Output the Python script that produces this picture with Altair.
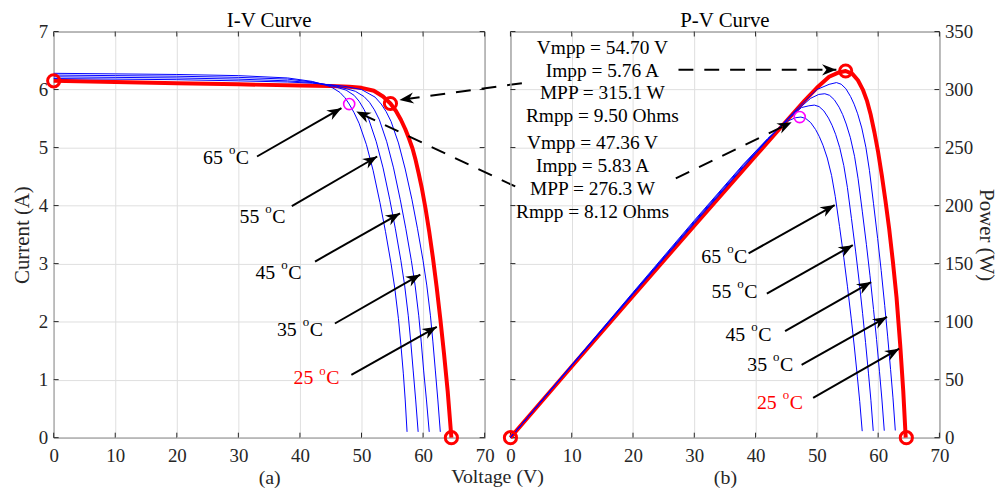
import math
import altair as alt
import pandas as pd

FONT = "Liberation Serif"
AX = "#262626"
GRID = "#dfdfdf"

# ---------------- data ----------------
# I-V curves (V in volts, I in amps)
iv25_v = [0, 10, 20, 30, 40, 45, 48, 50, 52, 53.5, 54.7, 55.6, 56.4, 57.1, 57.7, 58.3, 58.8, 59.3, 59.8,
          60.4, 61.0, 61.6, 62.2, 62.8, 63.4, 64.0, 64.6]
iv25_i = [6.15, 6.13, 6.11, 6.09, 6.07, 6.06, 6.05, 6.03, 5.98, 5.88, 5.76, 5.63, 5.48, 5.32, 5.16, 4.98, 4.78,
          4.55, 4.3, 3.95, 3.55, 3.1, 2.6, 2.05, 1.45, 0.8, 0.0]
iv35_v = [0, 10, 20, 30, 38, 42, 47, 50, 52.2, 53.2, 54.0, 54.8, 56.0, 57.1, 58.2, 59.1, 60.0, 60.6, 61.2,
          61.6, 62.0, 62.4, 62.8]
iv35_i = [6.19, 6.18, 6.17, 6.15, 6.13, 6.11, 6.06, 6.0, 5.87, 5.75, 5.62, 5.45, 5.08, 4.63, 4.1, 3.6, 3.05,
          2.63, 2.1, 1.65, 1.15, 0.65, 0.1]
iv45_v = [0, 10, 20, 30, 38, 42, 46, 49, 50.4, 51.3, 52.1, 52.9, 54.1, 55.2, 56.3, 57.2, 58.1, 58.7, 59.3,
          59.7, 60.1, 60.55, 61.0]
iv45_i = [6.22, 6.21, 6.2, 6.18, 6.15, 6.12, 6.06, 5.97, 5.88, 5.78, 5.65, 5.48, 5.1, 4.65, 4.1, 3.6, 3.05,
          2.63, 2.1, 1.65, 1.15, 0.65, 0.1]
iv55_v = [0, 10, 20, 30, 38, 42, 45, 47.5, 48.8, 49.6, 50.4, 51.2, 52.4, 53.5, 54.6, 55.5, 56.4, 57.0, 57.6,
          58.0, 58.4, 58.8, 59.2]
iv55_i = [6.25, 6.24, 6.23, 6.21, 6.18, 6.13, 6.07, 5.99, 5.9, 5.8, 5.66, 5.48, 5.1, 4.65, 4.1, 3.6, 3.05,
          2.63, 2.1, 1.65, 1.15, 0.65, 0.1]
iv65_v = [0, 10, 20, 30, 38, 42, 45, 46.5, 47.3, 48.0, 48.8, 49.6, 50.8, 51.9, 53.0, 53.9, 54.8, 55.4, 56.0,
          56.4, 56.8, 57.1, 57.4]
iv65_i = [6.28, 6.27, 6.26, 6.24, 6.2, 6.14, 6.05, 5.95, 5.86, 5.75, 5.6, 5.42, 5.05, 4.6, 4.05, 3.55, 3.0,
          2.58, 2.05, 1.6, 1.1, 0.65, 0.1]

# P-V curves (V in volts, P in watts)
pv25_v = [0, 10, 20, 30, 40, 45, 48, 50, 52, 53.5, 54.7, 55.8, 56.7, 57.5, 58.2, 58.8, 59.4, 60.0, 60.6,
          61.2, 61.8, 62.4, 63.0, 63.6, 64.1, 64.5]
pv25_p = [0, 61.3, 122.2, 182.7, 242.8, 272.7, 290.4, 301.5, 311.0, 314.6, 316.0, 313.5, 308.0, 300.0,
          290.0, 278.0, 263.0, 246.0, 226.0, 204.0, 180.0, 152.0, 121.0, 80.0, 40.0, 0.0]
pv35_v = [0, 10, 20, 30, 38, 42, 47, 50, 52, 53.2, 53.97, 54.74, 55.5, 56.08, 56.66, 57.33, 58.0, 58.58,
          59.25, 59.92, 60.5, 61.07, 61.55, 62.03, 62.42, 62.8]
pv35_p = [0, 61.9, 123.4, 184.5, 232.9, 256.6, 284.8, 300.0, 304.5, 306.0, 304.6, 300.7, 294.0, 287.4,
          279.1, 266.9, 250.3, 230.4, 201.6, 171.7, 144.0, 114.1, 87.5, 58.7, 34.3, 6.2]
pv45_v = [0, 10, 20, 30, 38, 42, 46, 49, 50.3, 51.3, 52.08, 52.85, 53.63, 54.21, 54.79, 55.47, 56.15,
          56.73, 57.41, 58.09, 58.67, 59.25, 59.74, 60.22, 60.61, 61.0]
pv45_p = [0, 62.1, 124.0, 185.4, 233.7, 257.0, 278.8, 292.5, 295.8, 296.4, 295.0, 291.2, 284.8, 278.4,
          270.3, 258.5, 242.5, 223.1, 195.2, 166.3, 139.5, 110.5, 84.7, 56.8, 33.3, 6.0]
pv55_v = [0, 10, 20, 30, 38, 42, 45, 47.5, 48.7, 49.6, 50.37, 51.14, 51.9, 52.48, 53.06, 53.73, 54.4,
          54.98, 55.65, 56.32, 56.9, 57.47, 57.95, 58.43, 58.82, 59.2]
pv55_p = [0, 62.4, 124.6, 186.3, 234.8, 257.5, 273.2, 284.5, 286.0, 286.6, 285.3, 281.6, 275.4, 269.2,
          261.4, 250.0, 234.4, 215.7, 188.8, 160.8, 134.8, 106.8, 81.9, 55.0, 32.2, 5.8]
pv65_v = [0, 10, 20, 30, 38, 42, 45, 46.5, 47.4, 48.2, 49.0, 49.8, 50.4, 51.0, 51.7, 52.4, 53.0, 53.7,
          54.4, 55.0, 55.6, 56.1, 56.6, 57.0, 57.4]
pv65_p = [0, 62.8, 125.2, 187.2, 235.6, 257.9, 272.3, 275.7, 276.3, 275.0, 271.5, 265.5, 259.5, 252.0,
          241.0, 226.0, 208.0, 182.0, 155.0, 130.0, 103.0, 79.0, 53.0, 31.0, 5.6]

# marked points
iv_red_pts_v = [0, 54.7, 64.6]
iv_red_pts_i = [6.15, 5.76, 0.0]
iv_mag_pt_v = [48.0]
iv_mag_pt_i = [5.75]
pv_red_pts_v = [0, 54.7, 64.6]
pv_red_pts_p = [0, 316.0, 0]
pv_mag_pt_v = [47.2]
pv_mag_pt_p = [276.3]

# temperature labels (order 65, 55, 45, 35, 25)
lab_temps = ["65", "55", "45", "35", "25"]
lab_colors = ["black", "black", "black", "black", "red"]
iv_lab_v = [24.27, 30.19, 32.77, 36.26, 38.95]
iv_lab_i = [4.82, 3.81, 2.84, 1.86, 1.02]
pv_lab_v = [31.15, 32.81, 35.08, 38.64, 40.22]
pv_lab_p = [155.5, 125.3, 88.7, 62.5, 30.1]

# solid arrows (tail -> tip)
iv_arr_v1 = [33.03, 38.68, 42.45, 45.68, 48.35]
iv_arr_i1 = [4.846, 3.992, 3.036, 1.968, 1.084]
iv_arr_v2 = [46.74, 52.55, 56.26, 59.55, 62.23]
iv_arr_i2 = [5.679, 4.846, 3.867, 2.812, 1.911]
pv_arr_v1 = [38.86, 41.84, 44.81, 47.51, 49.39]
pv_arr_p1 = [158.8, 124.2, 91.9, 62.7, 34.3]
pv_arr_v2 = [52.91, 55.87, 58.86, 61.45, 63.44]
pv_arr_p2 = [200.5, 165.9, 134.1, 104.0, 76.7]

# dashed arrows
iv_dash_v1 = [76.05, 74.97]
iv_dash_i1 = [6.11, 4.33]
iv_dash_v2 = [56.16, 49.16]
iv_dash_i2 = [5.82, 5.62]
pv_dash_v1 = [27.42, 26.98]
pv_dash_p1 = [317.0, 223.5]
pv_dash_v2 = [53.18, 45.89]
pv_dash_p2 = [317.0, 271.8]

# MPP annotation text
mpp_lines_1 = ["Vmpp = 54.70 V", "Impp = 5.76 A", "MPP = 315.1 W", "Rmpp = 9.50 Ohms"]
mpp_lines_2 = ["Vmpp = 47.36 V", "Impp = 5.83 A", "MPP = 276.3 W", "Rmpp = 8.12 Ohms"]
mpp_v_1 = 15.0
mpp_v_2 = 13.4
mpp_p_1 = [335.9, 316.1, 297.1, 276.8]
mpp_p_2 = [253.7, 234.1, 214.4, 194.7]

v_ticks = [0, 10, 20, 30, 40, 50, 60, 70]
i_ticks = [0, 1, 2, 3, 4, 5, 6, 7]
p_ticks = [0, 50, 100, 150, 200, 250, 300, 350]

# ---------------- layout ----------------
W1, W2, H = 434, 432, 409
SPACING = 26
HEAD = "M0,0 L0.7,1.8 L0,1.25 L-0.7,1.8 Z"


def curve_df(series):
    rows = []
    for name, vs, ys in series:
        for k, (a, b) in enumerate(zip(vs, ys)):
            rows.append({"V": a, "Y": b, "T": name, "k": k})
    return pd.DataFrame(rows)


def angles(x1, y1, x2, y2, sx, sy):
    out = []
    for a, b, c, d in zip(x1, y1, x2, y2):
        out.append(math.degrees(math.atan2((c - a) * sx, (d - b) * sy)) % 360)
    return out


def make_panel(W, ydom, yticks, ytitle, yorient, xtitle, title,
               red, blues, redpts, magpt, labs, arr, dash, texts, extra):
    sx = W / 70.0
    sy = H / float(ydom[1])
    common = dict(labelFont=FONT, labelFontSize=19, labelColor=AX,
                  titleFont=FONT, titleFontWeight="normal",
                  titleColor=AX, ticks=False, tickSize=0, domain=False,
                  grid=True, gridColor=GRID, gridWidth=1, labelFlush=False)
    xax = alt.Axis(values=v_ticks, title=xtitle, orient="bottom", titleFontSize=20,
                   labelPadding=9, titlePadding=2.2, format="d", **common)
    if yorient == "left":
        yax = alt.Axis(values=yticks, title=ytitle, orient="left", titleFontSize=21,
                       labelPadding=6, titlePadding=6, format="d", **common)
    else:
        yax = alt.Axis(values=yticks, title=ytitle, orient="right", titleAngle=90,
                       titleFontSize=21, labelPadding=5, titlePadding=3, format="d", **common)
    xs = alt.Scale(domain=[0, 70], nice=False, zero=False)
    ys = alt.Scale(domain=ydom, nice=False, zero=False)

    def X(f="V"):
        return alt.X(f, type="quantitative", scale=xs, axis=xax)

    def Y(f="Y"):
        return alt.Y(f, type="quantitative", scale=ys, axis=yax)

    layers = []
    # inward ticks on the four sides
    tx = pd.DataFrame({"V": v_ticks})
    ty = pd.DataFrame({"Y": yticks})
    layers.append(alt.Chart(tx).mark_rule(color=AX, strokeWidth=1).encode(
        x=X(), y=alt.value(H), y2=alt.value(H - 5)))
    layers.append(alt.Chart(tx).mark_rule(color=AX, strokeWidth=1).encode(
        x=X(), y=alt.value(0), y2=alt.value(5)))
    layers.append(alt.Chart(ty).mark_rule(color=AX, strokeWidth=1).encode(
        y=Y(), x=alt.value(0), x2=alt.value(5)))
    layers.append(alt.Chart(ty).mark_rule(color=AX, strokeWidth=1).encode(
        y=Y(), x=alt.value(W), x2=alt.value(W - 5)))

    # curves
    layers.append(alt.Chart(curve_df([("25",) + red])).mark_line(
        color="#ff0000", strokeWidth=4, strokeJoin="round").encode(
        x=X(), y=Y(), order="k:Q"))
    layers.append(alt.Chart(curve_df(blues)).mark_line(
        color="#0000ff", strokeWidth=1).encode(
        x=X(), y=Y(), detail="T:N", order="k:Q"))

    # solid arrows
    adf = pd.DataFrame({"V": arr[0], "Y": arr[1], "V2": arr[2], "Y2": arr[3],
                        "ang": angles(arr[0], arr[1], arr[2], arr[3], sx, sy)})
    layers.append(alt.Chart(adf).mark_rule(color="black", strokeWidth=2).encode(
        x=X(), y=Y(), x2="V2:Q", y2="Y2:Q"))
    # dashed arrows
    ddf = pd.DataFrame({"V": dash[0], "Y": dash[1], "V2": dash[2], "Y2": dash[3],
                        "ang": angles(dash[0], dash[1], dash[2], dash[3], sx, sy)})
    layers.append(alt.Chart(ddf).mark_rule(color="black", strokeWidth=2,
                                           strokeDash=[15, 11]).encode(
        x=X(), y=Y(), x2="V2:Q", y2="Y2:Q"))
    heads = pd.DataFrame({"V": list(arr[2]) + list(dash[2]),
                          "Y": list(arr[3]) + list(dash[3]),
                          "ang": list(adf["ang"]) + list(ddf["ang"])})
    layers.append(alt.Chart(heads).mark_point(
        shape=HEAD, filled=True, color="black", size=256, opacity=1,
        strokeWidth=0).encode(x=X(), y=Y(), angle=alt.Angle("ang:Q", scale=None)))

    # circles
    layers.append(alt.Chart(pd.DataFrame({"V": redpts[0], "Y": redpts[1]})).mark_point(
        shape="circle", filled=False, color="#ff0000", strokeWidth=3, size=150,
        opacity=1).encode(x=X(), y=Y()))
    layers.append(alt.Chart(pd.DataFrame({"V": magpt[0], "Y": magpt[1]})).mark_point(
        shape="circle", filled=False, color="#ff00ff", strokeWidth=1.6, size=125,
        opacity=1).encode(x=X(), y=Y()))

    # temperature labels
    ldf = pd.DataFrame({"V": labs[0], "Y": labs[1], "t": lab_temps, "c": lab_colors,
                        "o": ["o"] * 5, "C": ["C"] * 5})
    layers.append(alt.Chart(ldf).mark_text(font=FONT, fontSize=20, align="left",
                                           baseline="middle").encode(
        x=X(), y=Y(), text="t:N", color=alt.Color("c:N", scale=None)))
    layers.append(alt.Chart(ldf).mark_text(font=FONT, fontSize=13, align="left",
                                           baseline="middle", dx=26, dy=-8).encode(
        x=X(), y=Y(), text="o:N", color=alt.Color("c:N", scale=None)))
    layers.append(alt.Chart(ldf).mark_text(font=FONT, fontSize=20, align="left",
                                           baseline="middle", dx=33).encode(
        x=X(), y=Y(), text="C:N", color=alt.Color("c:N", scale=None)))

    if texts is not None:
        layers.append(alt.Chart(texts).mark_text(font=FONT, fontSize=19.5, align="center",
                                                 baseline="middle", color="black").encode(
            x=X(), y=Y(), text="s:N"))
    if extra is not None:
        layers.append(extra)

    return alt.layer(*layers).properties(
        width=W, height=H,
        title=alt.TitleParams(title, font=FONT, fontSize=21, fontWeight="normal",
                              color="black", offset=-8.5, anchor="middle"))


volt_title = alt.Chart(pd.DataFrame({"s": ["Voltage (V)"]})).mark_text(
    font=FONT, fontSize=20, align="center", baseline="alphabetic", color=AX).encode(
    x=alt.value(W1 + SPACING / 2), y=alt.value(H + 46), text="s:N")

left = make_panel(
    W1, [0, 7], i_ticks, "Current (A)", "left", "(a)", "I-V Curve",
    (iv25_v, iv25_i),
    [("35", iv35_v, iv35_i), ("45", iv45_v, iv45_i), ("55", iv55_v, iv55_i), ("65", iv65_v, iv65_i)],
    (iv_red_pts_v, iv_red_pts_i), (iv_mag_pt_v, iv_mag_pt_i),
    (iv_lab_v, iv_lab_i),
    (iv_arr_v1, iv_arr_i1, iv_arr_v2, iv_arr_i2),
    (iv_dash_v1, iv_dash_i1, iv_dash_v2, iv_dash_i2),
    None, volt_title)

mpp_df = pd.DataFrame({
    "V": [mpp_v_1] * 4 + [mpp_v_2] * 4,
    "Y": mpp_p_1 + mpp_p_2,
    "s": mpp_lines_1 + mpp_lines_2,
})

right = make_panel(
    W2, [0, 350], p_ticks, "Power (W)", "right", "(b)", "P-V Curve",
    (pv25_v, pv25_p),
    [("35", pv35_v, pv35_p), ("45", pv45_v, pv45_p), ("55", pv55_v, pv55_p), ("65", pv65_v, pv65_p)],
    (pv_red_pts_v, pv_red_pts_p), (pv_mag_pt_v, pv_mag_pt_p),
    (pv_lab_v, pv_lab_p),
    (pv_arr_v1, pv_arr_p1, pv_arr_v2, pv_arr_p2),
    (pv_dash_v1, pv_dash_p1, pv_dash_v2, pv_dash_p2),
    mpp_df, None)

chart = alt.hconcat(left, right, spacing=SPACING, bounds="flush").properties(
    padding={"left": 3, "top": 0, "right": 2, "bottom": 0},
    background="white",
).configure_view(stroke=AX, strokeWidth=1)

chart.save("out.html", embed_options={"renderer": "svg", "actions": False})
